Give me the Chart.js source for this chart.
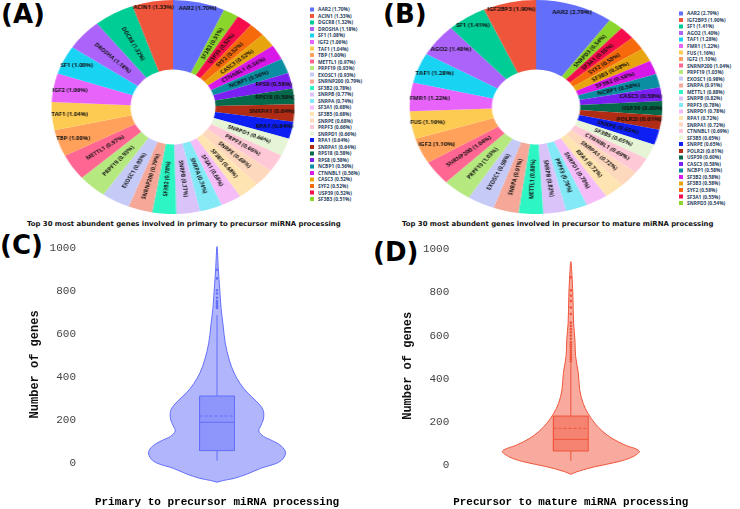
<!DOCTYPE html>
<html>
<head>
<meta charset="utf-8">
<script src="https://cdn.jsdelivr.net/npm/chart.js@4.4.0/dist/chart.umd.min.js"></script>
<style>
  body { margin: 0; width: 740px; height: 509px; background: #fff; position: relative; overflow: hidden; }
  .abs { position: absolute; }
  .tag { font: bold 26px "DejaVu Sans"; line-height: 26px; color: #000; white-space: nowrap; }
  .subtitle { font: bold 6.9px "DejaVu Sans"; line-height: 8px; color: #111; white-space: nowrap; }
  .pie-wrap { width: 214px; height: 214px; transform-origin: 50% 50%; }
  .legend { transform: scale(0.5); transform-origin: 0 0; font: bold 9.8px "Open Sans"; color: #2a3f5f; }
  .legend div { height: 13.1px; white-space: nowrap; display: flex; align-items: center; }
  .legend .sw { width: 8px; height: 8px; margin-right: 8px; flex: none; }
</style>
</head>
<body>
<div class="abs tag" style="left:1px;top:1px">(A)</div>
<div class="abs tag" style="left:383px;top:1px">(B)</div>
<div class="abs tag" style="left:0px;top:232px">(C)</div>
<div class="abs tag" style="left:373px;top:239px">(D)</div>

<div class="abs pie-wrap" style="left:66px;top:0px;transform:scaleX(1.135)"><canvas id="pieA" width="214" height="214"></canvas></div>
<div class="abs pie-wrap" style="left:429px;top:0px;transform:scaleX(1.18)"><canvas id="pieB" width="214" height="214"></canvas></div>
<div class="abs legend" id="legendA" style="left:310px;top:6.4px"></div>
<div class="abs legend" id="legendB" style="left:679px;top:9.7px"></div>
<div class="abs subtitle" style="left:27px;top:220px">Top 30 most abundent genes involved in primary to precursor miRNA processing</div>
<div class="abs subtitle" style="left:402px;top:220px">Top 30 most abundent genes involved in precursor to mature miRNA processing</div>

<canvas class="abs" id="violinC" width="370" height="279" style="left:0;top:230px"></canvas>
<canvas class="abs" id="violinD" width="370" height="279" style="left:370px;top:230px"></canvas>

<script>
// pie data (top 30 genes, % of total)
const genesA = ['AAR2', 'ACIN1', 'DGCR8', 'DROSHA', 'SF1', 'IGF2', 'TAF1', 'TBP', 'METTL1', 'PRPF19',
    'EXOSC1', 'SNRNP200', 'SF3B2', 'SNRPB', 'SNRPA', 'SF3A1', 'SF3B5', 'SNRPE', 'PRPF3', 'SNRPD1',
    'RPA1', 'SNRPA1', 'RPS18', 'RPS8', 'NCBP1', 'CTNNBL1', 'CASC3', 'SYF2', 'USP39', 'SF3B3'];
const pctA = [1.70, 1.33, 1.32, 1.18, 1.08, 1.06, 1.04, 1.00, 0.97, 0.93,
    0.93, 0.79, 0.78, 0.77, 0.74, 0.68, 0.68, 0.68, 0.66, 0.66,
    0.64, 0.64, 0.58, 0.58, 0.56, 0.56, 0.52, 0.52, 0.52, 0.51];

const genesB = ['AAR2', 'IGF2BP3', 'SF1', 'AGO2', 'TAF1', 'FMR1', 'FUS', 'IGF2', 'SNRNP200', 'PRPF19',
    'EXOSC1', 'SNRPA', 'METTL1', 'SNRPB', 'PRPF3', 'SNRPD1', 'RPA1', 'SNRPA1', 'CTNNBL1', 'SF3B5',
    'SNRPE', 'POLR2I', 'USP39', 'CASC3', 'NCBP1', 'SF3B2', 'SF3B3', 'SYF2', 'SF3A1', 'SNRPD3'];
const pctB = [2.79, 1.90, 1.41, 1.40, 1.28, 1.22, 1.16, 1.10, 1.04, 1.03,
    0.98, 0.91, 0.88, 0.82, 0.78, 0.78, 0.72, 0.72, 0.69, 0.65,
    0.65, 0.61, 0.60, 0.58, 0.58, 0.58, 0.58, 0.58, 0.55, 0.54];

const sliceColors = ['#636efa', '#ef553b', '#00cc96', '#ab63fa', '#19d3f3', '#e763fa', '#fecb52', '#ffa15a', '#ff6692', '#b6e880',
    '#c6caf7', '#f6a898', '#2ef5c4', '#dac3f8', '#83e9f7', '#f5bcf7', '#fee4b0', '#fed8bd', '#ffc8d6', '#e5f5d6',
    '#0d1ff2', '#b02c15', '#06694b', '#7b20f2', '#0a8ea2', '#d818e8', '#e8a40c', '#f66a0b', '#f60c4c', '#8bd62b'];

// violin data: value levels and relative half-width (density)
const yTicks = [0, 200, 400, 600, 800, 1000];

const levelsC = [-88, -80, -70, -50, -23, 0, 20, 50, 80, 105, 125, 150, 175, 210, 250, 290, 330, 370, 420, 480, 560, 640, 720, 810, 900, 1008];
const densityC = [0, 0.09, 0.25, 0.44, 0.64, 0.87, 0.96, 1.00, 0.94, 0.81, 0.68, 0.61, 0.64, 0.68, 0.67, 0.57, 0.44, 0.34, 0.25, 0.18, 0.12, 0.09, 0.06, 0.04, 0.02, 0];
const boxC = [12, 59, 191, 313, 690];   // lower whisker, q1, median, q3, upper whisker
const meanC = 220;
const outliersC = [722, 728, 735, 745, 755, 770, 790, 805, 860, 900];

const levelsD = [-43, -31, -8, 15, 39, 65, 93, 124, 155, 194, 240, 286, 348, 425, 503, 580, 658, 781, 858, 943];
const densityD = [0, 0.09, 0.35, 0.69, 0.91, 1.00, 0.79, 0.60, 0.47, 0.35, 0.25, 0.18, 0.13, 0.11, 0.07, 0.06, 0.04, 0.03, 0.02, 0];
const boxD = [20, 65, 119, 227, 472];
const meanD = 170;
const outliersD = [480, 490, 500, 510, 520, 530, 540, 550, 560, 570, 585, 600, 615, 630, 645, 660, 700, 730, 760, 785, 810, 870];

const sliceLabels = {
    id: 'sliceLabels',
    afterDatasetsDraw(chart, args, opts) {
        const ctx = chart.ctx;
        const ds = chart.data.datasets[0];
        const tol = 1.5;
        ctx.save();
        ctx.font = `bold ${opts.size}px "Open Sans"`;
        ctx.fillStyle = opts.color;
        ctx.textAlign = 'center';
        ctx.textBaseline = 'middle';
        chart.getDatasetMeta(0).data.forEach((arc, i) => {
            const { x, y, startAngle, endAngle, innerRadius, outerRadius } = arc;
            const text = `${chart.data.labels[i]} (${ds.data[i].toFixed(2)}%)`;
            const w = ctx.measureText(text).width, h = opts.size;
            const mid = (startAngle + endAngle) / 2;
            const half = (endAngle - startAngle) / 2;
            const inside = (px, py) => {
                const rr = Math.hypot(px, py);
                let d = Math.atan2(py, px) - mid;
                while (d > Math.PI) d -= 2 * Math.PI;
                while (d < -Math.PI) d += 2 * Math.PI;
                return rr >= innerRadius - tol && rr <= outerRadius + tol && Math.abs(d) <= half + tol / rr;
            };
            // horizontal text if it fits somewhere along the mid line, outermost first
            for (let r = outerRadius - h / 2; r >= innerRadius + h / 2; r -= 1) {
                const cx = Math.cos(mid) * r, cy = Math.sin(mid) * r;
                if (inside(cx - w / 2, cy - h / 2) && inside(cx + w / 2, cy - h / 2) &&
                    inside(cx + w / 2, cy + h / 2) && inside(cx - w / 2, cy + h / 2)) {
                    ctx.fillText(text, x + cx, y + cy);
                    return;
                }
            }
            // otherwise radial
            const r = (innerRadius + outerRadius) / 2;
            let rot = mid;
            while (rot > Math.PI / 2) rot -= Math.PI;
            while (rot <= -Math.PI / 2) rot += Math.PI;
            ctx.save();
            ctx.translate(x + Math.cos(mid) * r, y + Math.sin(mid) * r);
            ctx.rotate(rot);
            ctx.fillText(text, 0, 0);
            ctx.restore();
        });
        ctx.restore();
    }
};

function makePie(id, genes, pct) {
    // first slice clockwise from the top, the rest run counter-clockwise
    const order = [0, ...genes.map((g, i) => i).slice(1).reverse()];
    new Chart(document.getElementById(id), {
        type: 'doughnut',
        data: {
            labels: order.map(i => genes[i]),
            datasets: [{
                data: order.map(i => pct[i]),
                backgroundColor: order.map(i => sliceColors[i]),
                borderWidth: 0
            }]
        },
        options: {
            responsive: false,
            animation: false,
            cutout: '35%',
            events: [],
            plugins: {
                legend: { display: false },
                tooltip: { enabled: false },
                sliceLabels: { size: 5.2, color: '#111' }
            }
        },
        plugins: [sliceLabels]
    });
}

function buildLegend(id, genes, pct) {
    const el = document.getElementById(id);
    genes.forEach((g, i) => {
        const row = document.createElement('div');
        row.innerHTML = `<span class="sw" style="background:${sliceColors[i]}"></span>${g} (${pct[i].toFixed(2)}%)`;
        el.appendChild(row);
    });
}

function makeViolin(id, cfg) {
    const { levels, density, box, mean, outliers, color, fill, boxFill, xTitle } = cfg;
    const bw = 0.255;
    const [lo, q1, med, q3, hi] = box;
    const outline = [
        ...levels.map((v, i) => ({ x: density[i], y: v })),
        ...levels.slice(1, -1).map((v, i) => ({ x: -density[i + 1], y: v })).reverse(),
        { x: 0, y: levels[0] }
    ];
    const line = (data, extra) => Object.assign({
        data: data, showLine: true, borderColor: color, borderWidth: 1, pointRadius: 0
    }, extra);

    new Chart(document.getElementById(id), {
        type: 'scatter',
        data: {
            datasets: [
                { data: outliers.map(v => ({ x: 0, y: v })), pointRadius: 1.3, pointBackgroundColor: color, pointBorderWidth: 0, order: 0 },
                line([{ x: -bw, y: mean }, { x: bw, y: mean }], { borderDash: [3, 2], order: 1 }),
                line([{ x: -bw, y: med }, { x: bw, y: med }], { order: 2 }),
                line([{ x: -bw, y: q1 }, { x: bw, y: q1 }, { x: bw, y: q3 }, { x: -bw, y: q3 }, { x: -bw, y: q1 }],
                    { fill: 'shape', backgroundColor: boxFill, order: 3 }),
                line([{ x: 0, y: lo }, { x: 0, y: q1 }], { order: 4 }),
                line([{ x: 0, y: q3 }, { x: 0, y: hi }], { order: 4 }),
                line(outline, { fill: 'shape', backgroundColor: fill, tension: 0.35, order: 5 })
            ]
        },
        options: {
            responsive: false,
            animation: false,
            events: [],
            layout: { padding: { top: cfg.padTop, right: cfg.padRight, left: 0, bottom: 0 } },
            plugins: { legend: { display: false }, tooltip: { enabled: false } },
            scales: {
                x: {
                    type: 'linear', min: -cfg.xHalf, max: cfg.xHalf,
                    grid: { display: false, drawTicks: false }, border: { display: false },
                    ticks: { display: false },
                    title: { display: true, text: xTitle, color: '#000', padding: 0,
                        font: { family: 'Liberation Mono', size: 11, weight: 'bold' } },
                    afterFit: s => { s.height = cfg.xHeight; }
                },
                y: {
                    min: -100, max: 1020,
                    grid: { display: false, drawTicks: false }, border: { display: false },
                    afterBuildTicks: s => { s.ticks = yTicks.map(v => ({ value: v })); },
                    ticks: { color: '#444', padding: 4, callback: v => String(v),
                        font: { family: 'Liberation Mono', size: 11 } },
                    title: { display: true, text: 'Number of genes', color: '#111', padding: { top: cfg.titlePad, bottom: 0 },
                        font: { family: 'Liberation Mono', size: 12, weight: 'bold' } },
                    afterFit: s => { s.width = cfg.yWidth; }
                }
            }
        }
    });
}

makePie('pieA', genesA, pctA);
makePie('pieB', genesB, pctB);
buildLegend('legendA', genesA, pctA);
buildLegend('legendB', genesB, pctB);

makeViolin('violinC', {
    levels: levelsC, density: densityC, box: boxC, mean: meanC, outliers: outliersC,
    color: '#636efa', fill: 'rgba(99,110,250,0.5)', boxFill: 'rgba(99,110,250,0.45)',
    xTitle: 'Primary to precursor miRNA processing',
    xHalf: 2.0, padTop: 14, padRight: 16, xHeight: 24.2, yWidth: 80, titlePad: 27.8
});
makeViolin('violinD', {
    levels: levelsD, density: densityD, box: boxD, mean: meanD, outliers: outliersD,
    color: '#ef553b', fill: 'rgba(239,85,59,0.5)', boxFill: 'rgba(239,85,59,0.45)',
    xTitle: 'Precursor to mature miRNA processing',
    xHalf: 1.72, padTop: 15, padRight: 51.6, xHeight: 22.4, yWidth: 83.3, titlePad: 31
});
</script>
</body>
</html>
